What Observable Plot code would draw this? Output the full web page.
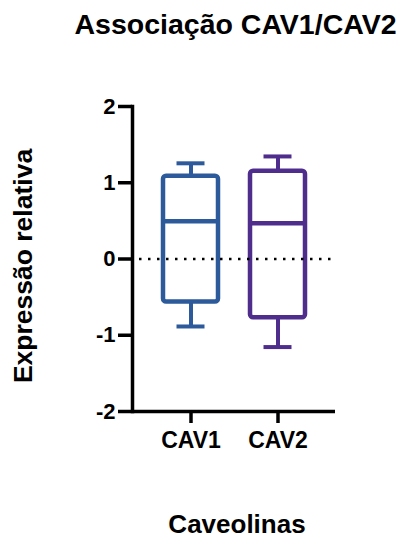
<!DOCTYPE html>
<html><head><meta charset="utf-8">
<script src="https://cdn.jsdelivr.net/npm/d3@7"></script>
<script src="https://cdn.jsdelivr.net/npm/@observablehq/plot@0.6"></script>
<style>body{margin:0;background:#fff} svg{display:block}</style>
</head><body><div id="chart"></div>
<script>
const categories = ["CAV1", "CAV2"];
const mins    = [-0.885, -1.155];
const q1s     = [-0.565, -0.770];
const medians = [0.495, 0.470];
const q3s     = [1.085, 1.150];
const maxs    = [1.255, 1.345];
const colors  = ["#2D5A9B", "#4F2D8C"];
const yTicks  = [-2, -1, 0, 1, 2];
const title = "Associação CAV1/CAV2";
const yLabel = "Expressão relativa";
const xLabel = "Caveolinas";

const data = categories.map((c, i) => ({cat: c, min: mins[i], q1: q1s[i], median: medians[i], q3: q3s[i], max: maxs[i]}));
const font = "'Liberation Sans', Arial, sans-serif";

const chart = Plot.plot({
  width: 401, height: 537,
  marginLeft: 132, marginRight: 66, marginTop: 106, marginBottom: 126,
  style: {fontFamily: font, color: "#000", background: "#fff", overflow: "visible"},
  x: {domain: categories, paddingInner: 0.37, paddingOuter: 0.34, axis: null},
  y: {domain: [-2, 2], axis: null},
  color: {domain: categories, range: colors},
  marks: [
    // whiskers
    Plot.ruleX(data, {x: "cat", y1: "q3", y2: "max", stroke: "cat", strokeWidth: 4}),
    Plot.ruleX(data, {x: "cat", y1: "min", y2: "q1", stroke: "cat", strokeWidth: 4}),
    // caps
    Plot.tickY(data, {x: "cat", y: "max", stroke: "cat", strokeWidth: 4, insetLeft: 13.5, insetRight: 13.5}),
    Plot.tickY(data, {x: "cat", y: "min", stroke: "cat", strokeWidth: 4, insetLeft: 13.5, insetRight: 13.5}),
    // box
    Plot.barY(data, {x: "cat", y1: "q1", y2: "q3", fill: "none", stroke: "cat", strokeWidth: 4.5, rx: 3, strokeLinejoin: "round"}),
    // median
    Plot.tickY(data, {x: "cat", y: "median", stroke: "cat", strokeWidth: 4.5}),
    // dotted zero line
    Plot.ruleY([0], {stroke: "#000", strokeWidth: 2.5, strokeDasharray: "2.5,6.5", insetLeft: 7}),
    // axes
    Plot.frame({anchor: "left", stroke: "#000", strokeWidth: 3.5}),
    Plot.ruleY([-2], {stroke: "#000", strokeWidth: 3.5}),
    Plot.axisY(yTicks, {anchor: "left", tickSize: 14, tickPadding: 3, strokeWidth: 3.5, fontSize: 22, fontWeight: "bold", tickFormat: d => String(d), label: null}),
    Plot.axisX(categories, {anchor: "bottom", tickSize: 12, tickPadding: 8, strokeWidth: 3.5, fontSize: 23, fontWeight: "bold", label: null}),
    // texts
    Plot.text([title], {frameAnchor: "top", textAnchor: "middle", dx: 1.5, dy: -73, lineAnchor: "bottom", fontSize: 28.5, fontWeight: "bold"}),
    Plot.text([yLabel], {frameAnchor: "left", textAnchor: "middle", rotate: -90, dx: -119, dy: 7, lineAnchor: "top", fontSize: 26.5, fontWeight: "bold"}),
    Plot.text([xLabel], {frameAnchor: "bottom", textAnchor: "middle", dx: 3, dy: 121, lineAnchor: "bottom", fontSize: 26, fontWeight: "bold"})
  ]
});
document.getElementById("chart").append(chart);
</script>
</body></html>
